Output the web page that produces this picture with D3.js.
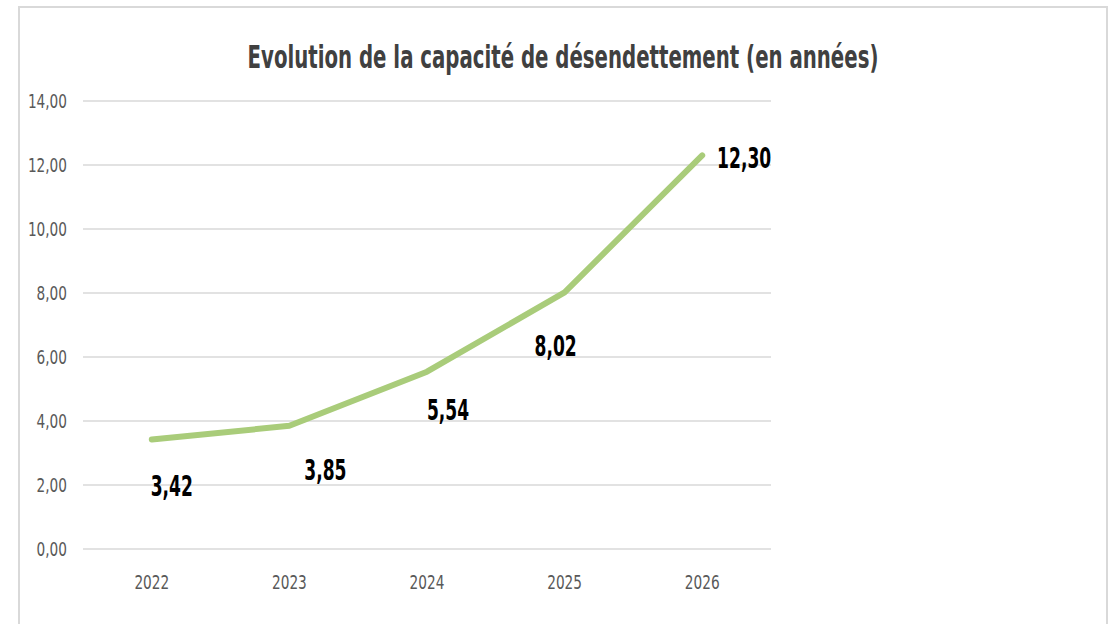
<!DOCTYPE html>
<html>
<head>
<meta charset="utf-8">
<script src="https://cdn.jsdelivr.net/npm/d3@7"></script>
<style>
  body { margin: 0; background: #fff; }
  svg text { font-family: "DejaVu Sans Condensed", "Liberation Sans Narrow", sans-serif; }
</style>
</head>
<body>
<div id="chart"></div>
<script>
// data
const years = ["2022", "2023", "2024", "2025", "2026"];
const capacite = [3.42, 3.85, 5.54, 8.02, 12.30];
const yTicks = [0, 2, 4, 6, 8, 10, 12, 14];
// label offsets relative to each point (Excel manual placement)
const labelDx = [20, 36, 21, -9, 42];
const labelDy = [47, 44, 38, 54, 3];

const width = 1113, height = 624;
const margin = {top: 101, left: 83, right: 342, bottom: 75};

// the source font is narrow, so squeeze text horizontally
const narrow = 0.8;

const svg = d3.select("#chart").append("svg")
    .attr("width", width)
    .attr("height", height);

// chart border
svg.append("rect")
    .attr("x", 19).attr("y", 7)
    .attr("width", 1088).attr("height", 640)
    .attr("fill", "#fff")
    .attr("stroke", "#d9d9d9")
    .attr("stroke-width", 2);

const x = d3.scaleBand().domain(years).range([margin.left, width - margin.right]);
const y = d3.scaleLinear().domain([0, 14]).range([height - margin.bottom, margin.top]);

const fmt = v => d3.format(".2f")(v).replace(".", ",");

// gridlines
svg.selectAll("line.grid")
    .data(yTicks)
    .enter().append("line")
    .attr("class", "grid")
    .attr("x1", margin.left)
    .attr("x2", width - margin.right)
    .attr("y1", d => y(d))
    .attr("y2", d => y(d))
    .attr("stroke", "#d9d9d9")
    .attr("stroke-width", 1.5);

// y axis labels
svg.selectAll("text.ytick")
    .data(yTicks)
    .enter().append("text")
    .attr("class", "ytick")
    .attr("transform", d => `translate(67,${y(d)}) scale(${narrow},1)`)
    .attr("dy", "0.35em")
    .attr("text-anchor", "end")
    .attr("fill", "#595959")
    .attr("font-size", 19)
    .text(d => fmt(d));

// x axis labels
svg.selectAll("text.xtick")
    .data(years)
    .enter().append("text")
    .attr("class", "xtick")
    .attr("transform", d => `translate(${x(d) + x.bandwidth() / 2},582) scale(${narrow},1)`)
    .attr("dy", "0.35em")
    .attr("text-anchor", "middle")
    .attr("fill", "#595959")
    .attr("font-size", 19)
    .text(d => d);

// line
const line = d3.line()
    .x((d, i) => x(years[i]) + x.bandwidth() / 2)
    .y(d => y(d));

svg.append("path")
    .datum(capacite)
    .attr("d", line)
    .attr("fill", "none")
    .attr("stroke", "#a9cc7a")
    .attr("stroke-width", 6)
    .attr("stroke-linecap", "round")
    .attr("stroke-linejoin", "round");

// data labels
svg.selectAll("text.label")
    .data(capacite)
    .enter().append("text")
    .attr("class", "label")
    .attr("transform", (d, i) =>
        `translate(${x(years[i]) + x.bandwidth() / 2 + labelDx[i]},${y(d) + labelDy[i]}) scale(0.68,1)`)
    .attr("dy", "0.35em")
    .attr("text-anchor", "middle")
    .attr("font-weight", "bold")
    .attr("font-size", 28)
    .attr("fill", "#000")
    .text(d => fmt(d));

// title
svg.append("text")
    .attr("transform", "translate(563,57) scale(0.686,1)")
    .attr("dy", "0.35em")
    .attr("text-anchor", "middle")
    .attr("font-size", 32)
    .attr("font-weight", "bold")
    .attr("fill", "#404040")
    .text("Evolution de la capacité de désendettement (en années)");
</script>
</body>
</html>
